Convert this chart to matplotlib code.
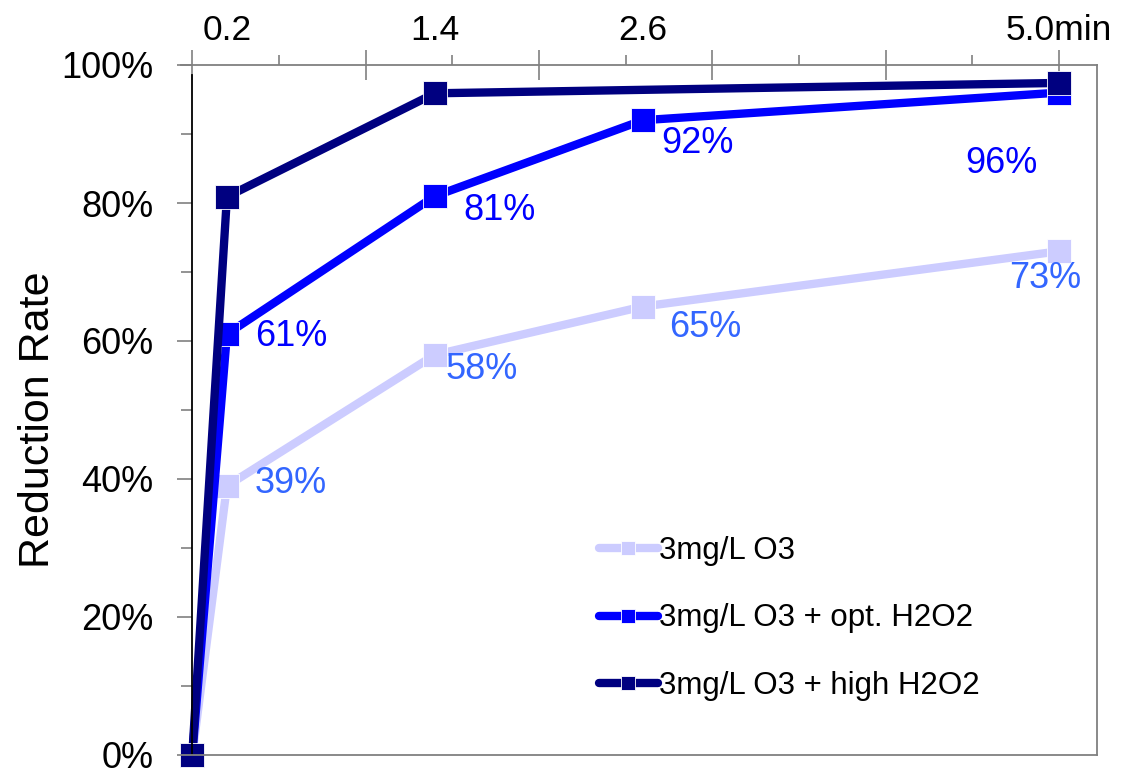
import matplotlib
matplotlib.use('Agg')
import matplotlib.pyplot as plt
from matplotlib.ticker import MultipleLocator, PercentFormatter

plt.rcParams['font.family'] = ['Liberation Sans', 'DejaVu Sans']

# reaction time (min) and reduction rate per treatment
t_o3 = [0, 0.2, 1.4, 2.6, 5.0]
o3 = [0, 0.39, 0.58, 0.65, 0.73]
t_opt = [0, 0.2, 1.4, 2.6, 5.0]
opt_h2o2 = [0, 0.61, 0.81, 0.92, 0.96]
t_high = [0, 0.2, 1.4, 5.0]
high_h2o2 = [0, 0.809, 0.959, 0.974]

names = ['3mg/L O3', '3mg/L O3 + opt. H2O2', '3mg/L O3 + high H2O2']
colors = ['#ccccff', '#0000ff', '#000080']
time_labels = ['0.2', '1.4', '2.6', '5.0min']
time_label_pos = [0.2, 1.4, 2.6, 5.0]

# value labels: (x, y, text, offset in pixels)
o3_labels = [(0.2, 0.39, '39%', (64, 2)), (1.4, 0.58, '58%', (47, -15)),
             (2.6, 0.65, '65%', (62, -21)), (5.0, 0.73, '73%', (-14, -27))]
opt_labels = [(0.2, 0.61, '61%', (64, -2)), (1.4, 0.81, '81%', (65, -14)),
              (2.6, 0.92, '92%', (55, -23)), (5.0, 0.96, '96%', (-57, -71))]

fig = plt.figure(figsize=(11.24, 7.7), dpi=100)
ax = fig.add_axes([181 / 1124, 15 / 770, (1097 - 181) / 1124, 690 / 770])

series = [(t_o3, o3), (t_opt, opt_h2o2), (t_high, high_h2o2)]
for (t, v), name, c in zip(series, names, colors):
    ax.plot(t, v, color=c, lw=6, marker='s', ms=17, mfc=c, mec='white',
            mew=0.6, label=name, clip_on=False, solid_capstyle='round')

for x, y, s, off in o3_labels:
    ax.annotate(s, (x, y), xytext=off, textcoords='offset pixels',
                ha='center', va='center', fontsize=26, color='#3366ff')
for x, y, s, off in opt_labels:
    ax.annotate(s, (x, y), xytext=off, textcoords='offset pixels',
                ha='center', va='center', fontsize=26, color='#0000ff')

ax.set_xlim(-0.065, 5.22)
ax.set_ylim(0, 1)

# x axis sits on top, labels only at the sampling times
ax.xaxis.tick_top()
ax.xaxis.set_major_locator(MultipleLocator(1))
ax.xaxis.set_minor_locator(MultipleLocator(0.5))
ax.tick_params(axis='x', which='major', direction='inout', length=22,
               color='#808080', width=1.2, labeltop=False, labelbottom=False)
ax.tick_params(axis='x', which='minor', direction='out', length=7,
               color='#808080', width=1.2)
for x, s in zip(time_label_pos, time_labels):
    ax.text(x, 1.0 + 35 / 690, s, transform=ax.get_xaxis_transform(),
            ha='center', va='center', fontsize=25.5, color='black')

ax.yaxis.set_major_locator(MultipleLocator(0.2))
ax.yaxis.set_minor_locator(MultipleLocator(0.1))
ax.yaxis.set_major_formatter(PercentFormatter(1.0, decimals=0))
ax.tick_params(axis='y', which='major', direction='out', length=11,
               color='#808080', width=1.2, labelsize=26, pad=17)
ax.tick_params(axis='y', which='minor', direction='out', length=8,
               color='#808080', width=1.2)

for side in ['top', 'right', 'bottom']:
    ax.spines[side].set_color('#808080')
    ax.spines[side].set_linewidth(1.3)
ax.spines['left'].set_position(('data', 0))
ax.spines['left'].set_color('black')
ax.spines['left'].set_linewidth(1.3)
ax.spines['left'].set_bounds(0, 0.985)

fig.text(38 / 1124, 1 - 420 / 770, 'Reduction Rate', rotation=90,
         ha='center', va='center', fontsize=31)

ax.legend(loc='upper left', bbox_to_anchor=(583 / 1124, 1 - 520 / 770),
          bbox_transform=fig.transFigure, frameon=False, fontsize=22.5,
          handlelength=1.9, handletextpad=0.03, labelspacing=1.21,
          borderpad=0, markerscale=0.62, numpoints=1)

fig.savefig('out.png', dpi=100, facecolor='white')
